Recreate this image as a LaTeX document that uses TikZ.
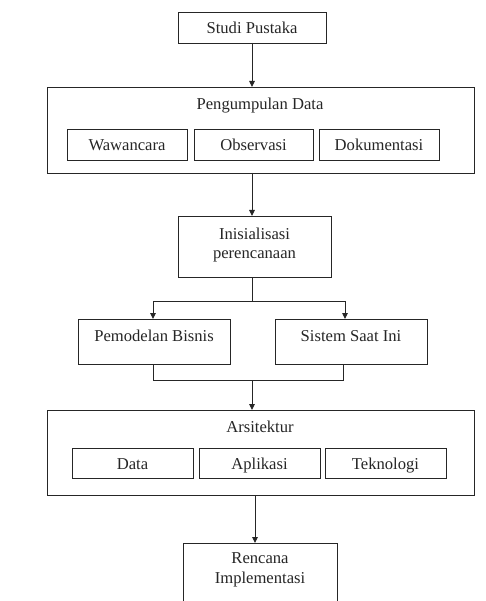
\documentclass[tikz,border=0pt]{standalone}
\usepackage{fontspec}
\setmainfont{Liberation Serif}
\newfontfamily\serfont{Liberation Serif}
\usetikzlibrary{arrows.meta}
\begin{document}
\begin{tikzpicture}[x=1pt,y=-1pt,
  box/.style={draw=black!85, line width=0.9pt, rectangle, inner sep=0pt, outer sep=0pt},
  txt/.style={font=\serfont\fontsize{16.6}{19.5}\selectfont, inner sep=0pt, align=center, text=black!85},
  txt1/.style={txt, text height=15pt, text depth=3.5pt},
  line/.style={draw=black!85, line width=0.9pt},
  arr/.style={line, -{Triangle[length=6pt,width=5.5pt]}}]
\useasboundingbox[fill=white] (0,0) rectangle (485,601);
\begin{scope}
\clip (0,0) rectangle (485,601);
% Studi Pustaka
\node[box, minimum width=148, minimum height=31] (sp) at (252,27.5) {};
\node[txt1] (tsp) at (252,27.5) {Studi Pustaka};
% Pengumpulan Data
\node[box, minimum width=427, minimum height=86] (pd) at (260.5,130) {};
\node[txt1] (tpd) at (260,104) {Pengumpulan Data};
\node[box, minimum width=120, minimum height=31] (ww) at (127,144.5) {};
\node[txt1] (tww) at (127,145) {Wawancara};
\node[box, minimum width=119, minimum height=31] (ob) at (253.5,144.5) {};
\node[txt1] (tob) at (253.5,145) {Observasi};
\node[box, minimum width=120, minimum height=31] (dk) at (379,144.5) {};
\node[txt1] (tdk) at (379,145) {Dokumentasi};
% Inisialisasi
\node[box, minimum width=153, minimum height=61] (ini) at (254.5,246.5) {};
\node[txt] (tini) at (254.5,245) {Inisialisasi\\perencanaan};
% Pemodelan / Sistem
\node[box, minimum width=152, minimum height=45] (pb) at (154,341.5) {};
\node[txt1] (tpb) at (154,336) {Pemodelan Bisnis};
\node[box, minimum width=152, minimum height=45] (ss) at (351,341.5) {};
\node[txt1] (tss) at (351,336) {Sistem Saat Ini};
% Arsitektur
\node[box, minimum width=427, minimum height=85] (ar) at (260.5,452.5) {};
\node[txt1] (tar) at (260,427) {Arsitektur};
\node[box, minimum width=121, minimum height=30] (da) at (132.5,463) {};
\node[txt1] (tda) at (132.5,463.5) {Data};
\node[box, minimum width=121, minimum height=30] (ap) at (259.5,463) {};
\node[txt1] (tap) at (259.5,463.5) {Aplikasi};
\node[box, minimum width=121, minimum height=30] (tk) at (385.5,463) {};
\node[txt1] (ttk) at (385.5,463.5) {Teknologi};
% Rencana
\node[box, minimum width=154, minimum height=66] (ri) at (260,576) {};
\node[txt] (tri) at (260,570) {Rencana\\Implementasi};
% connector coordinates
\coordinate (c1) at (252,0);
\coordinate (br) at (252,301);
\coordinate (bl) at (153,301);
\coordinate (brr) at (345,301);
\coordinate (ml) at (153,380);
\coordinate (mr) at (343,380);
\coordinate (mm) at (252,380);
\coordinate (c2) at (255,0);
% connectors
\draw[arr] (sp.south) -- (sp.south |- pd.north);
\draw[arr] (pd.south -| c1) -- (ini.north -| c1);
\draw[line] (ini.south -| br) -- (br);
\draw[line] (bl) -- (brr);
\draw[arr] (bl) -- (bl |- pb.north);
\draw[arr] (brr) -- (brr |- ss.north);
\draw[line] (ml |- pb.south) -- (ml) -- (mr) -- (mr |- ss.south);
\draw[arr] (mm) -- (mm |- ar.north);
\draw[arr] (ar.south -| c2) -- (ri.north -| c2);
\end{scope}
\end{tikzpicture}
\end{document}
